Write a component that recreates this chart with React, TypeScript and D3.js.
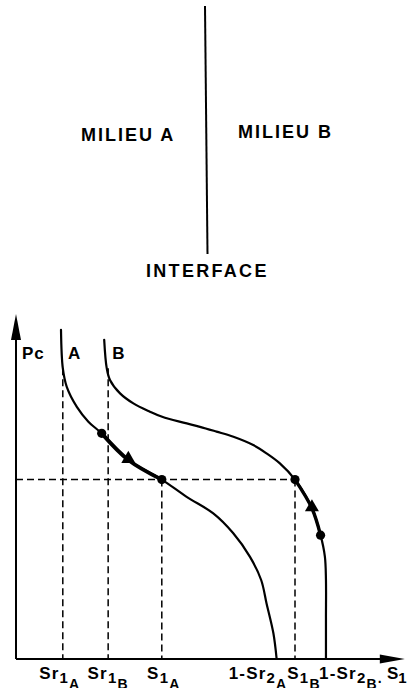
import React from 'react';
import * as d3 from 'd3';

// Capillary pressure Pc as a function of saturation S1, medium A
const curveA: [number, number][] = [
  [0.125, 9.54], [0.13, 8.43], [0.141, 7.89], [0.169, 7.31], [0.201, 6.88],
  [0.238, 6.54], [0.312, 5.77], [0.405, 5.2], [0.474, 4.7], [0.548, 4.22],
  [0.603, 3.65], [0.65, 2.96], [0.681, 2.29], [0.696, 1.61], [0.715, 0.745], [0.724, 0],
];

// Capillary pressure Pc as a function of saturation S1, medium B
const curveB: [number, number][] = [
  [0.245, 9.25], [0.252, 8.43], [0.261, 8.09], [0.289, 7.7], [0.326, 7.41],
  [0.372, 7.17], [0.406, 7.02], [0.465, 6.85], [0.511, 6.73], [0.557, 6.59],
  [0.604, 6.44], [0.659, 6.2], [0.696, 5.96], [0.733, 5.67], [0.775, 5.2],
  [0.822, 4.37], [0.846, 3.59], [0.858, 2.97], [0.861, 2.29], [0.861, 1.2], [0.861, 0],
];

// Path followed on each curve (start and end saturations)
const pathA: [number, number] = [0.238, 0.405];
const pathB: [number, number] = [0.775, 0.846];

// Points marked on the curves
const dots: [number, number][] = [[0.238, 6.54], [0.405, 5.2], [0.775, 5.2], [0.846, 3.59]];
const arrows: [number, number][] = [[0.312, 5.77], [0.822, 4.37]];

// Characteristic saturations and the equilibrium capillary pressure
const Sr1A = 0.13;
const Sr1B = 0.256;
const S1A = 0.405;
const S1B = 0.775;
const oneMinusSr2A = 0.725;
const oneMinusSr2B = 0.861;
const PcEq = 5.2;
const PcTop = 8.43;

// Tick labels on the S1 axis: [value, main, subscript, sub-subscript, trailing]
const tickLabels: [number, string, string, string, string][] = [
  [Sr1A, 'Sr', '1', 'A', ''],
  [Sr1B, 'Sr', '1', 'B', ''],
  [S1A, 'S', '1', 'A', ''],
  [oneMinusSr2A, '1-Sr', '2', 'A', ''],
  [S1B, 'S', '1', 'B', ''],
  [oneMinusSr2B, '1-Sr', '2', 'B', '.'],
];
// horizontal nudges so crowded labels do not collide
const tickDx = [-3, 0, 2, -19, 9, 25];

const FONT = '"Liberation Sans", Arial, Helvetica, sans-serif';

export default function App() {
  const W = 408;
  const H = 688;
  const x = d3.scaleLinear().domain([0, 1]).range([16, 376]);
  const y = d3.scaleLinear().domain([0, 10]).range([659, 314]);
  const xEnd = 1.08;
  const yEnd = 10;

  const line = d3
    .line<[number, number]>()
    .x((d) => x(d[0]))
    .y((d) => y(d[1]))
    .curve(d3.curveCatmullRom.alpha(0.5));

  const seg = (c: [number, number][], r: [number, number]) =>
    c.filter((d) => d[0] >= r[0] - 1e-9 && d[0] <= r[1] + 1e-9);

  const tri = d3.symbol().type(d3.symbolTriangle).size(85)();

  const dash = '7,4';
  const x0 = x(0);
  const y0 = y(0);

  return (
    <svg
      width={W}
      height={H}
      viewBox={`0 0 ${W} ${H}`}
      style={{ position: 'absolute', left: 0, top: 0, background: '#fff' }}
      fontFamily={FONT}
      fontWeight="bold"
    >
      <rect width={W} height={H} fill="#fff" />

      {/* interface between the two media */}
      <line x1={205} y1={6} x2={207.5} y2={254} stroke="#000" strokeWidth={2} />
      <text x={81} y={141} fontSize={18} letterSpacing={2}>MILIEU A</text>
      <text x={238} y={138} fontSize={18} letterSpacing={2}>MILIEU B</text>
      <text x={146} y={277} fontSize={18} letterSpacing={2.3}>INTERFACE</text>

      {/* dashed reference lines */}
      <g stroke="#000" strokeWidth={1.5} strokeDasharray={dash} fill="none">
        <line x1={x(Sr1A)} y1={y(PcTop)} x2={x(Sr1A)} y2={y0} />
        <line x1={x(Sr1B)} y1={y(PcTop)} x2={x(Sr1B)} y2={y0} />
        <line x1={x(S1A)} y1={y(PcEq)} x2={x(S1A)} y2={y0} />
        <line x1={x(S1B)} y1={y(PcEq)} x2={x(S1B)} y2={y0} />
        <line x1={x0} y1={y(PcEq)} x2={x(S1B)} y2={y(PcEq)} />
      </g>

      {/* axes with arrowheads */}
      <g stroke="#000" strokeWidth={2} fill="none">
        <line x1={x0} y1={y0} x2={x0} y2={y(yEnd) + 20} />
        <line x1={x0} y1={y0} x2={x(xEnd) - 20} y2={y0} />
      </g>
      <path
        d={`M${x0},${y(yEnd)} L${x0 + 5},${y(yEnd) + 26} L${x0 - 5},${y(yEnd) + 26} Z`}
        fill="#000"
      />
      <path
        d={`M${x(xEnd)},${y0} L${x(xEnd) - 25},${y0 - 4.5} L${x(xEnd) - 25},${y0 + 4.5} Z`}
        fill="#000"
      />

      {/* capillary pressure curves */}
      <g stroke="#000" fill="none" strokeLinecap="round">
        <path d={line(curveA) || ''} strokeWidth={2.2} />
        <path d={line(curveB) || ''} strokeWidth={2.2} />
        <path d={line(seg(curveA, pathA)) || ''} strokeWidth={3.8} />
        <path d={line(seg(curveB, pathB)) || ''} strokeWidth={3.4} />
      </g>

      {dots.map((d, i) => (
        <circle key={`d${i}`} cx={x(d[0])} cy={y(d[1])} r={4.6} fill="#000" />
      ))}
      {arrows.map((d, i) => (
        <path key={`a${i}`} d={tri || ''} transform={`translate(${x(d[0])},${y(d[1]) - 1})`} fill="#000" />
      ))}

      {/* axis and curve labels */}
      <text x={x0 + 6} y={359} fontSize={17} letterSpacing={1}>Pc</text>
      <text x={x(curveA[0][0]) + 7} y={359} fontSize={17}>A</text>
      <text x={x(curveB[0][0]) + 8} y={359} fontSize={17}>B</text>

      {tickLabels.map((t, i) => (
        <text
          key={`t${i}`}
          x={x(t[0]) + tickDx[i]}
          y={679}
          fontSize={17}
          textAnchor="middle"
          letterSpacing={1.2}
        >
          <tspan>{t[1]}</tspan>
          <tspan dy={4} fontSize={15}>{t[2]}</tspan>
          <tspan dy={6} fontSize={14}>{t[3]}</tspan>
          {t[4] ? <tspan dy={-6} fontSize={14}>{t[4]}</tspan> : null}
        </text>
      ))}

      <text x={387} y={679} fontSize={17}>
        <tspan>S</tspan>
        <tspan dy={4} fontSize={15}>1</tspan>
      </text>
    </svg>
  );
}
